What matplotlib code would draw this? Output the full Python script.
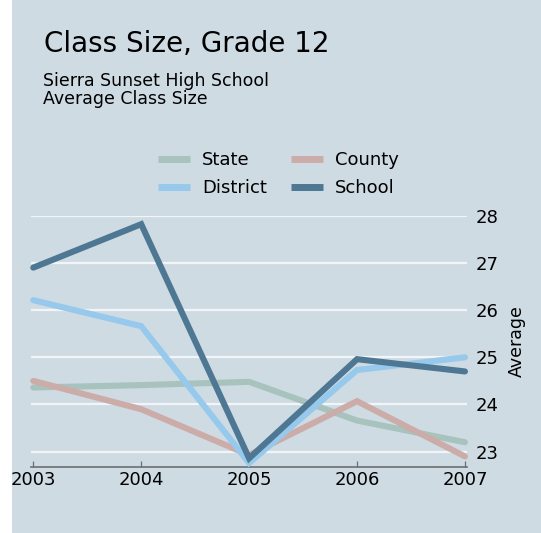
import matplotlib
matplotlib.use("Agg")
import matplotlib.pyplot as plt
from matplotlib.patches import Rectangle

# data
years = [2003, 2004, 2005, 2006, 2007]
state = [24.36, 24.41, 24.48, 23.66, 23.20]
county = [24.50, 23.90, 22.93, 24.07, 22.90]
district = [26.21, 25.66, 22.76, 24.73, 25.00]
school = [26.90, 27.82, 22.86, 24.96, 24.70]
y_ticks = [23, 24, 25, 26, 27, 28]

series = [("State", state, "#a8c3bd"),
          ("County", county, "#ccaca8"),
          ("District", district, "#96c9eb"),
          ("School", school, "#4d7792")]

W, H = 541, 533
BG = "#cfdbe3"

fig = plt.figure(figsize=(W / 100, H / 100), dpi=100)
fig.patch.set_facecolor("white")
fig.patches.append(Rectangle((12 / W, 0), 1 - 12 / W, 1, transform=fig.transFigure,
                             facecolor=BG, edgecolor="none", zorder=-10))

def fx(px):
    return px / W

def fy(py):
    return (H - py) / H

# titles
fig.text(fx(44), fy(52.3), "Class Size, Grade 12", fontsize=20, va="baseline", ha="left")
fig.text(fx(43), fy(86), "Sierra Sunset High School", fontsize=12.5, va="baseline", ha="left")
fig.text(fx(43), fy(104), "Average Class Size", fontsize=12.5, va="baseline", ha="left")

ax = fig.add_axes([fx(30.7), fy(466.7), fx(467) - fx(30.7), fy(215.7) - fy(466.7)])
ax.set_facecolor("none")

handles = {}
for name, vals, col in series:
    ln, = ax.plot(years, vals, color=col, lw=4.4, solid_capstyle="round",
                  solid_joinstyle="miter", clip_on=False, label=name, zorder=3)
    handles[name] = ln

ax.set_xlim(2002.976, 2007.019)
ax.set_ylim(22.682, 28)
ax.set_xticks(years)
ax.set_yticks(y_ticks)

for s in ["top", "left", "right"]:
    ax.spines[s].set_visible(False)
ax.spines["bottom"].set_color("#6a6e72")
ax.spines["bottom"].set_linewidth(1.2)

ax.yaxis.tick_right()
ax.tick_params(axis="y", length=0, pad=6.5, labelsize=13)
ax.tick_params(axis="x", direction="in", length=4.3, width=0.9, color="#6a6e72",
               pad=3, labelsize=13)
ax.grid(axis="y", color="#f2f5f7", lw=1.6, zorder=1)
ax.set_axisbelow(True)

ax.yaxis.set_label_position("right")
ax.set_ylabel("Average", fontsize=12.5, labelpad=6)

order = ["State", "District", "County", "School"]
leg = fig.legend([handles[n] for n in order], order, ncol=2, loc="upper left",
                 bbox_to_anchor=(fx(158), fy(151)), frameon=False, fontsize=13,
                 handlelength=1.77, handletextpad=0.66, columnspacing=1.35,
                 labelspacing=0.58, borderpad=0, borderaxespad=0)
for lh in leg.get_lines():
    lh.set_linewidth(5)
    lh.set_solid_capstyle("butt")

fig.savefig("out.png", dpi=100, facecolor=fig.get_facecolor())
